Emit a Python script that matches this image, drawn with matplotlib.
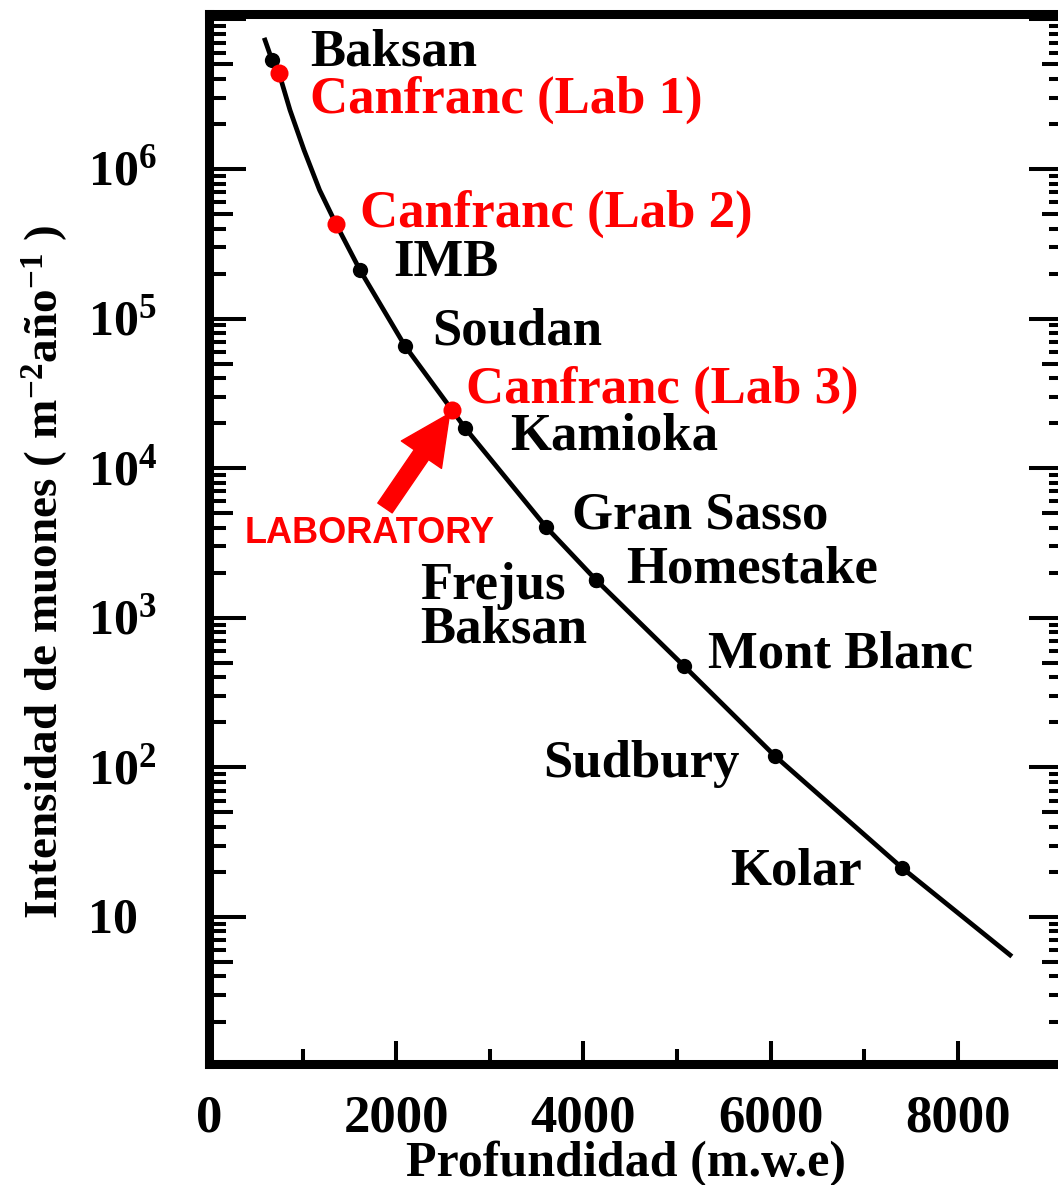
import matplotlib
matplotlib.use("Agg")
import matplotlib.pyplot as plt
from matplotlib.ticker import FixedLocator, NullFormatter

plt.rcParams["font.family"] = ["Liberation Serif", "DejaVu Serif"]
plt.rcParams["font.weight"] = "bold"
plt.rcParams["mathtext.fontset"] = "custom"
plt.rcParams["mathtext.rm"] = "Liberation Serif:bold"
plt.rcParams["mathtext.it"] = "Liberation Serif:bold"
plt.rcParams["mathtext.bf"] = "Liberation Serif:bold"

# depth-intensity curve
curve_depth = [598, 673, 748, 865, 1015, 1181, 1357, 1613, 2094, 2596, 2735,
               3600, 4135, 5075, 6047, 7404, 8558]
curve_intensity = [7.28e6, 5.35e6, 4.38e6, 2.48e6, 1.34e6, 7.24e5, 4.29e5,
                   2.11e5, 6.56e4, 2.45e4, 1.86e4, 4.05e3, 1.79e3, 476, 119,
                   21.3, 5.57]

# underground laboratories
lab_names = ["Baksan", "Canfranc (Lab 1)", "Canfranc (Lab 2)", "IMB", "Soudan",
             "Canfranc (Lab 3)", "Kamioka", "Gran Sasso", "Homestake",
             "Frejus\nBaksan", "Mont Blanc", "Sudbury", "Kolar"]
lab_depth = [673, 748, 1357, 1613, 2094, 2596, 2735, 3600, 4135, 4135,
             5075, 6047, 7404]
lab_intensity = [5.35e6, 4.38e6, 4.29e5, 2.11e5, 6.56e4, 2.45e4, 1.86e4,
                 4.05e3, 1.79e3, 1.79e3, 476, 119, 21.3]
lab_canfranc = [False, True, True, False, False, True, False, False, False,
                False, False, False, False]

xtick_major = [0, 2000, 4000, 6000, 8000]
xtick_minor = [1000, 3000, 5000, 7000]
ytick_major = [1, 10, 1e2, 1e3, 1e4, 1e5, 1e6, 1e7]
ytick_labels = ["10", "$10^{2}$", "$10^{3}$", "$10^{4}$", "$10^{5}$", "$10^{6}$"]
minor_mult = [2, 3, 4, 5, 6, 7, 8, 9]
ytick_minor = [m * 10 ** e for e in range(7) for m in minor_mult]

# label offsets in pixels from each point (baseline of last line), alignment
label_offsets = [(38, -5, "left"), (31, -40, "left"), (24, -3, "left"),
                 (33, -6, "left"), (27, 1, "left"), (14, 7, "left"),
                 (45, -22, "left"), (26, -2, "left"), (30, -3, "left"),
                 (-176, -63, "left"), (24, -1, "left"),
                 (-35, -21, "right"), (-40, -17, "right")]

fig = plt.figure(figsize=(10.58, 11.85), dpi=100)
ax = fig.add_axes([209 / 1058, 121 / 1185, 857 / 1058, 1050 / 1185])

ax.plot(curve_depth, curve_intensity, color="black", lw=3.4)
for d, i, c in zip(lab_depth, lab_intensity, lab_canfranc):
    if c:
        ax.plot(d, i, "o", color="red", ms=13, mec="none", zorder=4)
    else:
        ax.plot(d, i, "o", color="black", ms=11, mec="none", zorder=3)

for name, d, i, c, (dx, dy, ha) in zip(lab_names, lab_depth, lab_intensity,
                                       lab_canfranc, label_offsets):
    ax.annotate(name, xy=(d, i), xytext=(dx, dy), textcoords="offset pixels",
                ha=ha, va="baseline", fontsize=38, linespacing=0.88,
                color="red" if c else "black")

# arrow to Canfranc Lab 3
lab3 = lab_names.index("Canfranc (Lab 3)")
ax.annotate("", xy=(lab_depth[lab3], lab_intensity[lab3]), xytext=(-67, -98),
            textcoords="offset pixels",
            arrowprops=dict(arrowstyle="simple,head_width=3.5,head_length=3.6,tail_width=1.25",
                            mutation_scale=10, color="red", shrinkA=0, shrinkB=3))
ax.annotate("LABORATORY", xy=(lab_depth[lab3], lab_intensity[lab3]),
            xytext=(-207, -133), textcoords="offset pixels", ha="left",
            va="baseline", fontsize=26, color="red",
            family="Liberation Sans", fontweight="bold")

ax.set_yscale("log")
ax.set_xlim(0, 9156)
ax.set_ylim(1.04, 1.087e7)

ax.xaxis.set_major_locator(FixedLocator(xtick_major))
ax.xaxis.set_minor_locator(FixedLocator(xtick_minor))
ax.yaxis.set_major_locator(FixedLocator(ytick_major))
ax.yaxis.set_minor_locator(FixedLocator(ytick_minor))
ax.yaxis.set_major_formatter(NullFormatter())
ax.yaxis.set_minor_formatter(NullFormatter())

for s in ax.spines.values():
    s.set_linewidth(6.5)

ax.tick_params(axis="y", which="major", direction="in", length=26.6, width=2.9,
               left=True, right=True)
ax.tick_params(axis="y", which="minor", direction="in", length=12, width=2.9,
               left=True, right=True)
ax.tick_params(axis="x", which="major", direction="in", length=16.5, width=2.9,
               top=False, labelsize=38, pad=22)
ax.tick_params(axis="x", which="minor", direction="in", length=11, width=2.9,
               top=False)

# the 5 x 10^n ticks are a bit longer
minor_ticks = ax.yaxis.get_minor_ticks(len(ytick_minor))
for k, t in enumerate(minor_ticks):
    if minor_mult[k % len(minor_mult)] == 5:
        t.tick1line.set_markersize(17)
        t.tick2line.set_markersize(17)

for v, lab in zip(ytick_major[1:7], ytick_labels):
    ax.annotate(lab, xy=(0, v), xycoords=("axes fraction", "data"),
                xytext=(-121, -16), textcoords="offset pixels", ha="left",
                va="baseline", fontsize=36, annotation_clip=False)

fig.text(626 / 1058, 1 - 1176 / 1185, "Profundidad (m.w.e)", ha="center",
         va="baseline", fontsize=36)
fig.text(45 / 1058, 1 - 572 / 1185,
         "Intensidad de muones ( m$^{-2}$año$^{-1}$ )", rotation=90,
         ha="center", va="center", fontsize=34)

fig.savefig("out.png", dpi=100)
